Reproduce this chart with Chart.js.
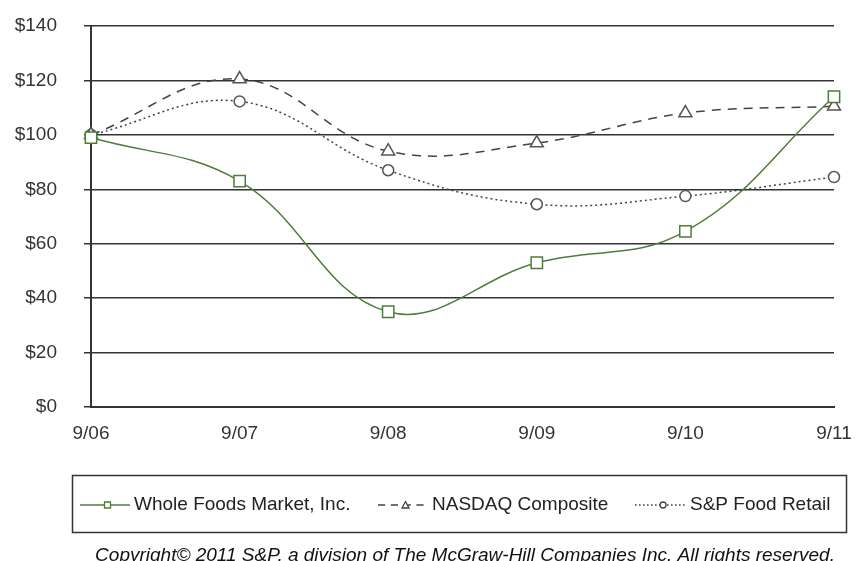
<!DOCTYPE html>
<html>
<head>
<meta charset="utf-8">
<script src="https://cdn.jsdelivr.net/npm/chart.js@4"></script>
<style>
  html, body { margin: 0; padding: 0; background: #fff; }
  #wrap { width: 855px; height: 561px; position: relative; }
</style>
</head>
<body>
<div id="wrap"><canvas id="perfChart" width="855" height="561"></canvas></div>
<script>
// chart data
const years = ['9/06', '9/07', '9/08', '9/09', '9/10', '9/11'];
const wholeFoods = [99, 83, 35, 53, 64.5, 114];
const nasdaq = [100, 120.5, 94, 97, 108, 110.5];
const spFoodRetail = [100, 112.3, 87, 74.5, 77.5, 84.5];
const yTicks = [0, 20, 40, 60, 80, 100, 120, 140];

const seriesNames = ['Whole Foods Market, Inc.', 'NASDAQ Composite', 'S&P Food Retail'];
const copyrightText = 'Copyright\u00a9 2011 S&P, a division of The McGraw-Hill Companies Inc. All rights reserved.';

const FONT = '"Liberation Sans", Arial, sans-serif';

// legend in a box + copyright line, drawn below the plot
const boxLegend = {
    id: 'boxLegend',
    afterDraw(chart) {
        const ctx = chart.ctx;
        ctx.save();
        ctx.strokeStyle = '#333';
        ctx.lineWidth = 1.5;
        ctx.strokeRect(72.5, 475.5, 774, 57);

        const items = [
            { x: 80, w: 50, tx: 134 },
            { x: 378, w: 50, tx: 432 },
            { x: 635, w: 51, tx: 690 }
        ];
        const y = 505;
        chart.data.datasets.forEach((ds, i) => {
            const it = items[i];
            ctx.strokeStyle = ds.borderColor;
            ctx.lineWidth = 1.3;
            ctx.setLineDash(ds.borderDash ? ds.borderDash.map(d => d * 0.8) : []);
            ctx.beginPath();
            ctx.moveTo(it.x, y);
            ctx.lineTo(it.x + it.w, y);
            ctx.stroke();
            ctx.setLineDash([]);
            // small marker in the sample
            const mx = it.x + it.w * 0.55;
            ctx.fillStyle = '#fff';
            ctx.beginPath();
            if (ds.pointStyle === 'rect') {
                ctx.rect(mx - 3, y - 3, 6, 6);
            } else if (ds.pointStyle === 'triangle') {
                ctx.moveTo(mx, y - 3.5);
                ctx.lineTo(mx + 3.5, y + 3);
                ctx.lineTo(mx - 3.5, y + 3);
                ctx.closePath();
            } else {
                ctx.arc(mx, y, 3, 0, Math.PI * 2);
            }
            ctx.fill();
            ctx.stroke();

            ctx.fillStyle = '#222';
            ctx.font = '19px ' + FONT;
            ctx.textBaseline = 'middle';
            ctx.textAlign = 'left';
            ctx.fillText(seriesNames[i], it.tx, y);
        });

        ctx.font = 'italic 19px ' + FONT;
        ctx.fillStyle = '#111';
        ctx.textAlign = 'center';
        ctx.textBaseline = 'alphabetic';
        ctx.fillText(copyrightText, 465, 561);
        ctx.restore();
    }
};

new Chart(document.getElementById('perfChart').getContext('2d'), {
    type: 'line',
    data: {
        labels: years,
        datasets: [
            {
                label: seriesNames[0],
                data: wholeFoods,
                borderColor: '#4e7d3a',
                borderWidth: 1.5,
                pointStyle: 'rect',
                pointRadius: 8,
                pointBorderWidth: 1.5,
                pointBackgroundColor: '#fff',
                pointBorderColor: '#4e7d3a',
                tension: 0.4
            },
            {
                label: seriesNames[1],
                data: nasdaq,
                borderColor: '#444',
                borderWidth: 1.5,
                borderDash: [9, 7],
                pointStyle: 'triangle',
                pointRadius: 7.5,
                pointBorderWidth: 1.5,
                pointBackgroundColor: '#fff',
                pointBorderColor: '#555',
                tension: 0.4
            },
            {
                label: seriesNames[2],
                data: spFoodRetail,
                borderColor: '#444',
                borderWidth: 1.5,
                borderDash: [2, 3],
                pointStyle: 'circle',
                pointRadius: 5.5,
                pointBorderWidth: 1.5,
                pointBackgroundColor: '#fff',
                pointBorderColor: '#555',
                tension: 0.4
            }
        ]
    },
    options: {
        responsive: false,
        animation: false,
        layout: { padding: { top: 26, right: 21, bottom: 0, left: 0 } },
        plugins: {
            legend: { display: false },
            tooltip: { enabled: false }
        },
        scales: {
            x: {
                offset: false,
                afterFit: (axis) => {
                    axis.height = 154;
                    axis.paddingLeft = 0;
                    axis.paddingRight = 0;
                },
                grid: { display: false },
                border: { color: '#333', width: 2 },
                ticks: { color: '#333', font: { family: FONT, size: 19 }, padding: 7, maxRotation: 0 }
            },
            y: {
                min: 0,
                max: 140,
                afterBuildTicks: (axis) => { axis.ticks = yTicks.map(v => ({ value: v })); },
                afterFit: (axis) => {
                    axis.width = 91;
                    axis.paddingTop = 0;
                    axis.paddingBottom = 0;
                },
                grid: { color: '#333', lineWidth: 1.5, tickLength: 7 },
                border: { color: '#333', width: 2 },
                ticks: {
                    color: '#333',
                    font: { family: FONT, size: 19 },
                    padding: 27,
                    callback: (v) => '$' + v
                }
            }
        }
    },
    plugins: [boxLegend]
});
</script>
</body>
</html>
